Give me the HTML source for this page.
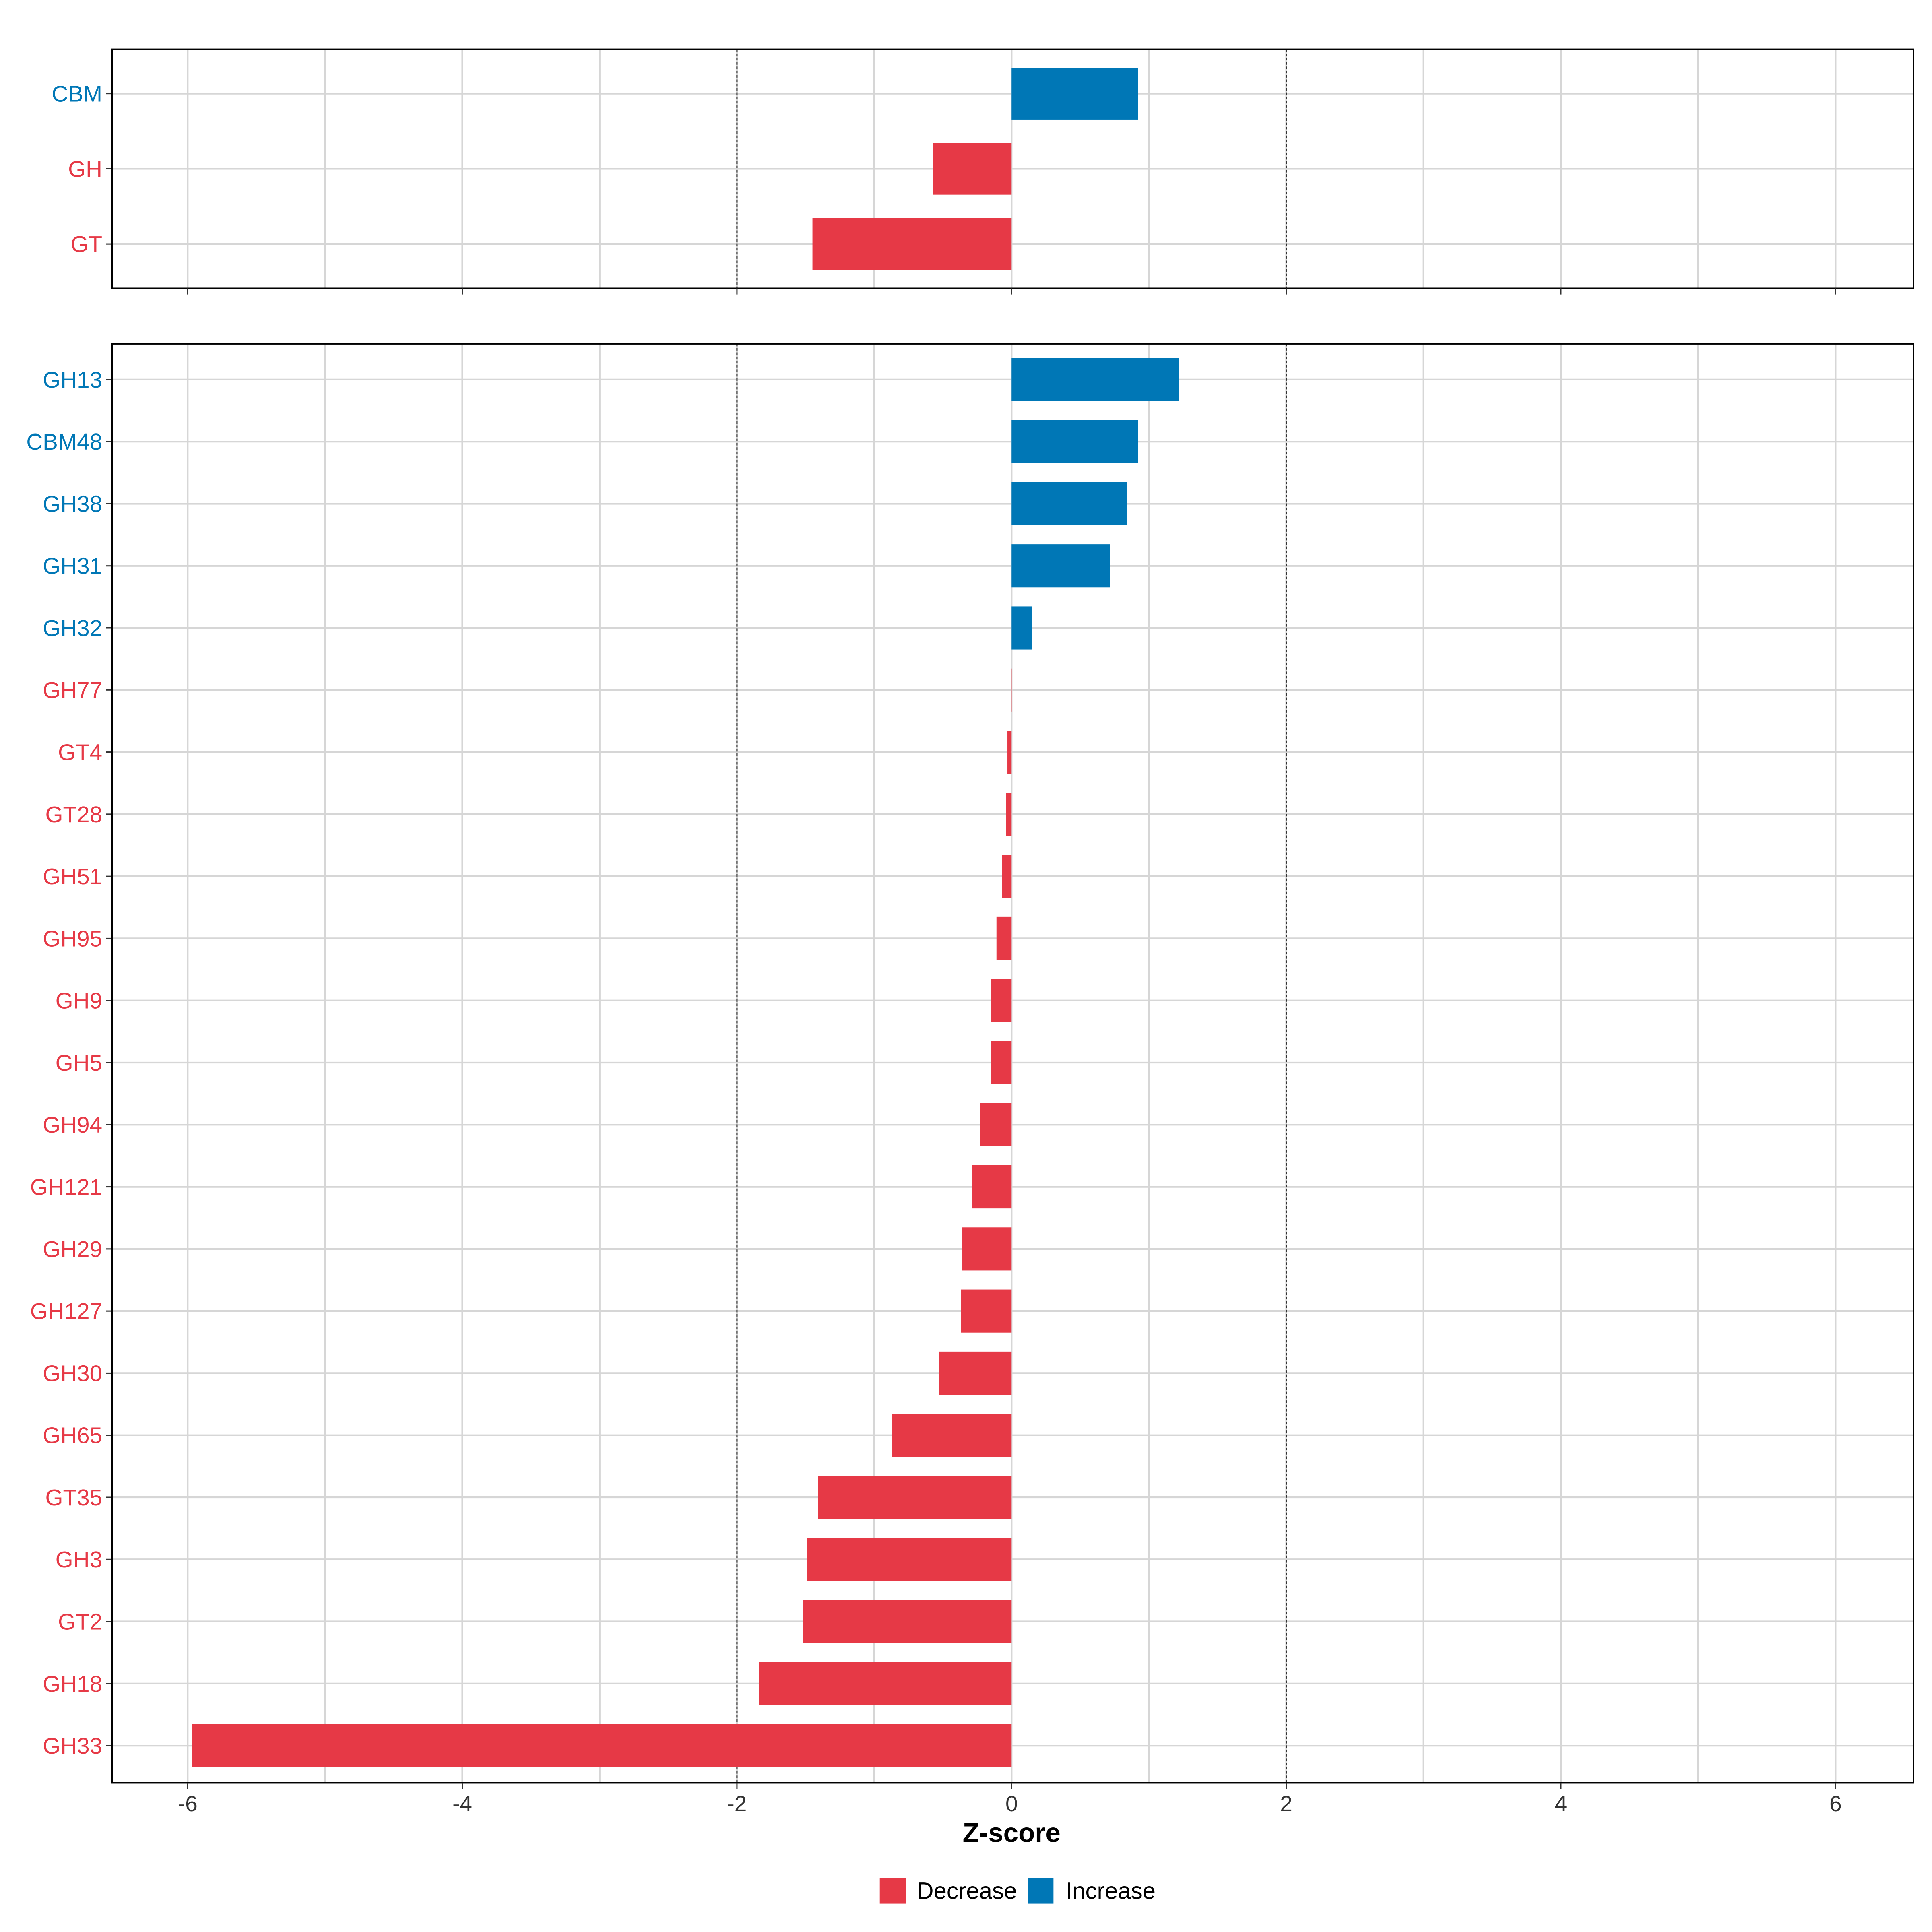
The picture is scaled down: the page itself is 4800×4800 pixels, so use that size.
<!DOCTYPE html>
<html><head><meta charset="utf-8"><style>html,body{margin:0;padding:0;background:#fff}svg{display:block}</style></head>
<body>
<svg id="chart" width="4800" height="4800" viewBox="0 0 1568 1568" xmlns="http://www.w3.org/2000/svg" font-family="Liberation Sans, sans-serif"></svg>
<script>
const topCats = ["CBM","GH","GT"];
const topVals = [0.92,-0.57,-1.45];
const botCats = ["GH13","CBM48","GH38","GH31","GH32","GH77","GT4","GT28","GH51","GH95","GH9","GH5","GH94","GH121","GH29","GH127","GH30","GH65","GT35","GH3","GT2","GH18","GH33"];
const botVals = [1.22,0.92,0.84,0.72,0.15,-0.005,-0.03,-0.04,-0.07,-0.11,-0.15,-0.15,-0.23,-0.29,-0.36,-0.37,-0.53,-0.87,-1.41,-1.49,-1.52,-1.84,-5.97];
const xTicks = [-6,-4,-2,0,2,4,6];
const minorTicks = [-6,-5,-4,-3,-2,-1,0,1,2,3,4,5,6];
const thresholds = [-2,2];

const NS="http://www.w3.org/2000/svg";
const svg=document.getElementById('chart');
const RED="#E63946", BLUE="#0077B6";
const xs = v => 821 + v*111.45;
function mk(tag, attrs, parent){const e=document.createElementNS(NS,tag);for(const k in attrs)e.setAttribute(k,attrs[k]);(parent||svg).appendChild(e);return e;}

function panel(name, y0, y1, cats, vals, firstY, step, barH){
  const g=mk('g',{});
  
  
  minorTicks.forEach(t=>{
    const l=mk('line',{x1:xs(t),x2:xs(t),y1:y0,y2:y1,stroke:'#d6d6d6','stroke-width':1.4},g);
    
    
  });
  cats.forEach((c,i)=>{
    const y=firstY+i*step;
    const l=mk('line',{x1:91,x2:1553,y1:y,y2:y,stroke:'#d6d6d6','stroke-width':1.4},g);
    
    
  });
  thresholds.forEach(t=>{
    const l=mk('line',{x1:xs(t),x2:xs(t),y1:y0,y2:y1,stroke:'#333','stroke-width':1,'stroke-dasharray':'2,1.5'},g);
    
    
  });
  cats.forEach((c,i)=>{
    const y=firstY+i*step, v=vals[i], col=v>=0?BLUE:RED;
    const r=mk('rect',{x:Math.min(xs(0),xs(v)),y:y-barH/2,width:Math.max(Math.abs(xs(v)-xs(0)),0.6),height:barH,fill:col},g);
    
    
    const t=mk('text',{x:83,y:y+6.5,'text-anchor':'end','font-size':18.5,fill:col},g);
    t.textContent=c;
    
    
    mk('line',{x1:86,x2:91,y1:y,y2:y,stroke:'#333','stroke-width':1},g);
  });
  const b=mk('rect',{x:91,y:y0,width:1462,height:y1-y0,fill:'none',stroke:'#000','stroke-width':1.2},g);
  
  
  xTicks.forEach(t=>mk('line',{x1:xs(t),x2:xs(t),y1:y1,y2:y1+5,stroke:'#333','stroke-width':1},g));
}
panel('top-panel',40,234,topCats,topVals,76,61,42);
panel('bottom-panel',279,1447,botCats,botVals,308,50.4,35);

xTicks.forEach(t=>{
  const e=mk('text',{x:xs(t),y:1470,'text-anchor':'middle','font-size':18,fill:'#333'});
  e.textContent=String(t);
  
  
});
const xt=mk('text',{x:821,y:1495,'text-anchor':'middle','font-size':22,'font-weight':'bold',fill:'#000'});
xt.textContent='Z-score';



[[714,RED,'Decrease',744],[834,BLUE,'Increase',865]].forEach(([x,c,lab,tx])=>{
  const r=mk('rect',{x:x,y:1524,width:21,height:21,fill:c});
  
  
  const t=mk('text',{x:tx,y:1541,'font-size':19,fill:'#000'});
  t.textContent=lab;
  
  
});
</script>
</body></html>
